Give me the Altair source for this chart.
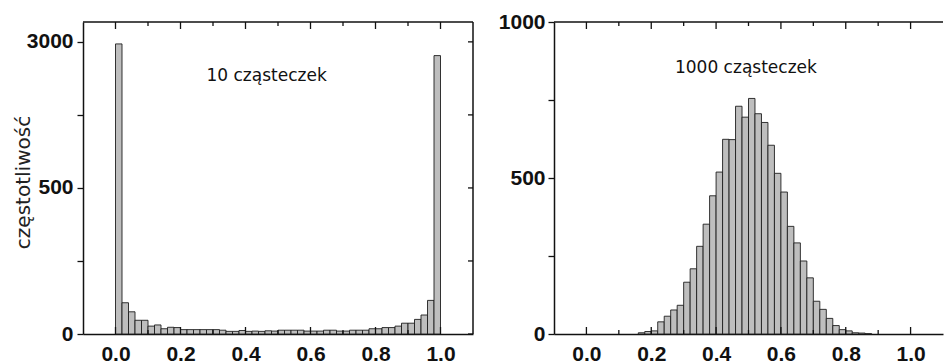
import altair as alt
import pandas as pd

# ---- data (50 bins of width 0.02 over [0, 1]) ----
BIN_WIDTH = 0.02
bin_starts = [round(BIN_WIDTH * i, 2) for i in range(50)]

counts_10 = [2965, 107, 76, 47, 47, 27, 31, 18, 23, 22,
             15, 15, 15, 15, 15, 15, 13, 9, 9, 12,
             9, 10, 9, 11, 10, 13, 13, 13, 13, 10,
             10, 10, 13, 13, 10, 10, 13, 13, 13, 18,
             18, 22, 22, 27, 37, 37, 50, 65, 115, 2765]

counts_1000 = [0, 0, 0, 0, 0, 0, 0, 0, 4, 8,
               10, 39, 57, 77, 92, 166, 209, 281, 352, 443,
               519, 624, 623, 730, 695, 755, 706, 678, 605, 515,
               455, 345, 292, 234, 180, 105, 79, 50, 27, 14,
               10, 4, 3, 1, 0, 0, 0, 0, 0, 0]

x_major = [0.0, 0.2, 0.4, 0.6, 0.8, 1.0]
x_minor = [0.1, 0.3, 0.5, 0.7, 0.9]
y_ticks = [0, 250, 500, 750, 1000]
label_10 = "10 cząsteczek"
label_1000 = "1000 cząsteczek"
y_title = "częstotliwość"

X_DOMAIN = [-0.1, 1.1]
W_L, W_R, H = 390, 389, 312
LEFT_TOP = 1068     # display units (broken axis: 1000 shown as 3000)
RIGHT_TOP = 1000

FILL = "#bebebe"
EDGE = "#1e1e1e"
FRAME = "#111111"
LABEL_FONT = "Liberation Sans"


def bars_df(counts):
    df = pd.DataFrame({"x0": bin_starts, "count": counts})
    df["x1"] = df["x0"] + BIN_WIDTH
    df["base"] = 0
    return df[df["count"] > 0]


def tick_layers(X, Y, width, top, right_ticks):
    layers = []
    maj = alt.Data(values=[{"t": v} for v in x_major])
    mnr = alt.Data(values=[{"t": v} for v in x_minor])
    for data, ln in ((maj, 7), (mnr, 4)):
        layers.append(alt.Chart(data).mark_rule(color=FRAME, strokeWidth=1.3).encode(
            x=X("t:Q"), y=alt.value(H), y2=alt.value(H - ln)))
        layers.append(alt.Chart(data).mark_rule(color=FRAME, strokeWidth=1.3).encode(
            x=X("t:Q"), y=alt.value(0), y2=alt.value(ln)))
    # top frame line
    frame = alt.Data(values=[{"a": X_DOMAIN[0], "b": X_DOMAIN[1], "t": top, "z": 0}])
    layers.append(alt.Chart(frame).mark_rule(color=FRAME, strokeWidth=1.5).encode(
        x=X("a:Q"), x2="b:Q", y=Y("t:Q")))
    if right_ticks:
        layers.append(alt.Chart(frame).mark_rule(color=FRAME, strokeWidth=1.5).encode(
            x=X("b:Q"), y=Y("z:Q"), y2="t:Q"))
        ydata = alt.Data(values=[{"v": v} for v in y_ticks])
        layers.append(alt.Chart(ydata).mark_rule(color=FRAME, strokeWidth=1.3).encode(
            y=Y("v:Q"), x=alt.value(width), x2=alt.value(width - 5)))
    return layers


def panel(counts, width, top, broken, note, note_x, note_y, with_title):
    xscale = alt.Scale(domain=X_DOMAIN, nice=False, zero=False)
    yscale = alt.Scale(domain=[0, top], nice=False)

    top_label = "3000" if broken else "1000"
    label_expr = ("datum.value == 1000 ? '" + top_label + "' : (datum.value == 500 ? '500' : "
                  "(datum.value == 0 ? '0' : ''))")

    yaxis_kwargs = dict(
        values=y_ticks, labelExpr=label_expr, grid=False,
        tickSize=6, tickColor=FRAME, tickWidth=1.3,
        domain=True, domainColor=FRAME, domainWidth=1.5,
        labelFont=LABEL_FONT, labelFontWeight="bold", labelFontSize=21,
        labelColor="#111111", labelPadding=4 if broken else 3,
        labelOverlap=False,
    )
    if with_title:
        yaxis_kwargs.update(
            title=y_title, titleFont="DejaVu Sans", titleFontSize=20,
            titleFontWeight="normal", titleColor="#222222", titleAngle=270,
            titleAlign="center", titleBaseline="middle", titleX=-60, titleY=160)
    else:
        yaxis_kwargs.update(title=None)
    yaxis = alt.Axis(**yaxis_kwargs)

    xaxis = alt.Axis(values=x_major, format=".1f", title=None, grid=False,
                     ticks=False, domain=True, domainColor=FRAME, domainWidth=1.5,
                     labelFont=LABEL_FONT, labelFontWeight="bold", labelFontSize=21,
                     labelColor="#111111", labelPadding=9, labelFlush=False,
                     labelOverlap=False)

    def X(field):
        return alt.X(field, scale=xscale, axis=xaxis)

    def Y(field):
        return alt.Y(field, scale=yscale, axis=yaxis)

    base = alt.Chart(bars_df(counts))
    if broken:
        base = base.transform_calculate(
            disp="datum.count <= 500 ? datum.count : 500 + (datum.count - 500) / 5")
    else:
        base = base.transform_calculate(disp="datum.count")

    bars = base.mark_bar(fill=FILL, stroke=EDGE, strokeWidth=0.9).encode(
        x=X("x0:Q"), x2="x1:Q", y=Y("disp:Q"), y2="base:Q")

    note_data = alt.Data(values=[{"nx": note_x, "ny": note_y, "txt": note}])
    text = alt.Chart(note_data).mark_text(
        font="DejaVu Sans", fontSize=17, color="#111111",
        align="center", baseline="middle").encode(
        x=X("nx:Q"), y=Y("ny:Q"), text="txt:N")

    layers = [bars] + tick_layers(X, Y, width, top, broken) + [text]
    return alt.layer(*layers).properties(width=width, height=H)


left = panel(counts_10, W_L, LEFT_TOP, True, label_10, 0.465, 884, True)
right = panel(counts_1000, W_R, RIGHT_TOP, False, label_1000, 0.492, 851, False)

chart = alt.hconcat(left, right, spacing=24).properties(
    padding={"left": 13, "top": 11, "right": 0, "bottom": 0},
    background="white",
).configure_view(stroke=None)

chart.save("out.html", embed_options={"renderer": "svg", "actions": False})
